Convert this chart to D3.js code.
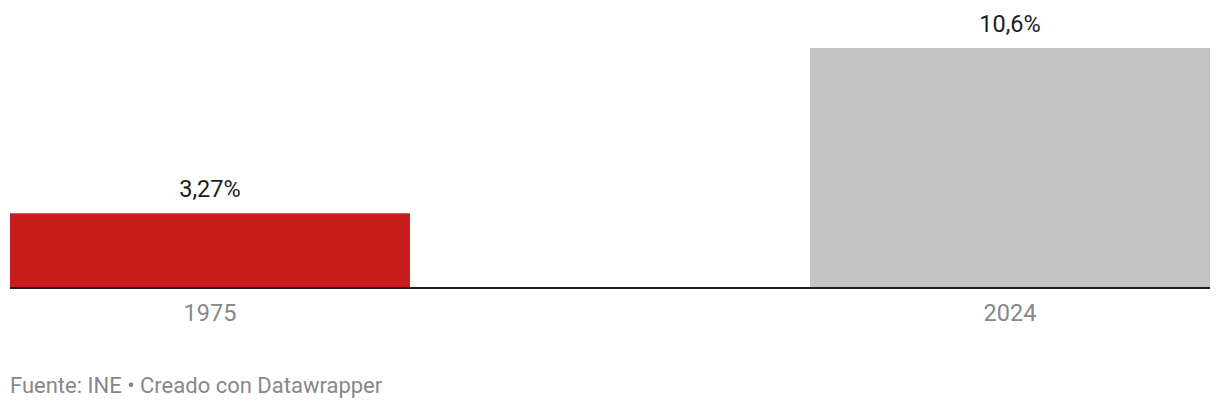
<!DOCTYPE html>
<html>
<head>
<meta charset="utf-8">
<script src="https://cdn.jsdelivr.net/npm/d3@7"></script>
<style>
  body { margin: 0; background: #fff; }
  svg { display: block; font-family: Roboto, sans-serif; }
</style>
</head>
<body>
<div id="chart"></div>
<script>
// data
var years = ["1975", "2024"];
var values = [3.27, 10.6];
var valueLabels = ["3,27%", "10,6%"];
var barColors = ["#c71e1d", "#c4c4c4"];

var width = 1220, height = 410;
var svg = d3.select("#chart").append("svg")
  .attr("width", width)
  .attr("height", height);

var x = d3.scaleBand()
  .domain(years)
  .range([10, 1210])
  .paddingInner(0.5)
  .paddingOuter(0);

var y = d3.scaleLinear()
  .domain([0, d3.max(values)])
  .range([287, 48]);

// bars
svg.selectAll("rect.bar")
  .data(years)
  .enter()
  .append("rect")
  .attr("class", "bar")
  .attr("x", function (d) { return x(d); })
  .attr("y", function (d, i) { return y(values[i]); })
  .attr("width", x.bandwidth())
  .attr("height", function (d, i) { return y(0) - y(values[i]); })
  .style("fill", function (d, i) { return barColors[i]; });

// value labels
svg.selectAll("text.value")
  .data(years)
  .enter()
  .append("text")
  .attr("class", "value")
  .attr("x", function (d) { return x(d) + x.bandwidth() / 2; })
  .attr("y", function (d, i) { return y(values[i]) - 16; })
  .attr("text-anchor", "middle")
  .style("font-size", "23.5px")
  .style("fill", "#1d1d1d")
  .text(function (d, i) { return valueLabels[i]; });

// baseline
svg.append("line")
  .attr("x1", 10)
  .attr("x2", 1210)
  .attr("y1", y(0) + 1)
  .attr("y2", y(0) + 1)
  .style("stroke", "#1d1d1d")
  .style("stroke-width", 2);

// x axis labels
var xAxis = d3.axisBottom(x).tickSize(0).tickPadding(0);
var axisG = svg.append("g")
  .attr("transform", "translate(0," + y(0) + ")")
  .call(xAxis);
axisG.select(".domain").remove();
axisG.selectAll("text")
  .attr("dy", null)
  .attr("y", 34)
  .style("font-family", "Roboto, sans-serif")
  .style("font-size", "23.5px")
  .style("fill", "#888");

// footer
svg.append("text")
  .attr("x", 10)
  .attr("y", 393)
  .style("font-size", "22px")
  .style("fill", "#888")
  .text("Fuente: INE • Creado con Datawrapper");
</script>
</body>
</html>
